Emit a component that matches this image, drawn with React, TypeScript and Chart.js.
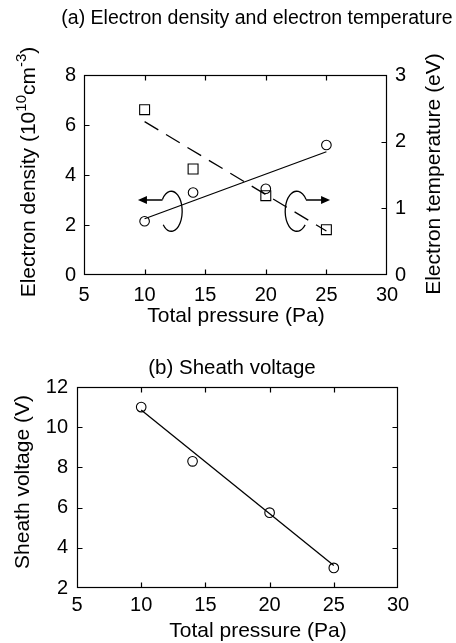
import React, { useEffect, useRef } from 'react';
import { Chart, registerables } from 'chart.js';

Chart.register(...registerables);

// ---------- data ----------
const pressure = [10, 14, 20, 25];
const electronDensity = [2.15, 3.3, 3.45, 5.2];
const electronTemperature = [2.48, 1.59, 1.19, 0.68];
const fitPressure = [10, 25];
const densityFit = [2.25, 4.93];
const temperatureFit = [2.3, 0.66];
const sheathVoltage = [11.0, 8.3, 5.75, 3.0];
const sheathFit = [10.85, 3.12];

const pressureTicks = [5, 10, 15, 20, 25, 30];
const densityTicks = [0, 2, 4, 6, 8];
const temperatureTicks = [0, 1, 2, 3];
const voltageTicks = [2, 4, 6, 8, 10, 12];

const FONT = '"Liberation Sans", Arial, Helvetica, sans-serif';
const W = 456;
const TOP_H = 335;
const BOT_H = 643 - TOP_H;

const pts = (xs: number[], ys: number[]) => xs.map((x, i) => ({ x, y: ys[i] }));

// ---------- plugins ----------
const framePlugin = {
  id: 'frame',
  afterDatasetsDraw(chart: any, _a: any, opts: any) {
    const { ctx, chartArea } = chart;
    const { left, right, top, bottom } = chartArea;
    ctx.save();
    ctx.strokeStyle = '#000';
    ctx.lineWidth = 1.2;
    const L = Math.round(left) + 0.5, R = Math.round(right) - 0.5;
    const T = Math.round(top) + 0.5, B = Math.round(bottom) - 0.5;
    ctx.strokeRect(L, T, R - L, B - T);
    const len = 5;
    ctx.beginPath();
    for (const spec of opts.ticks || []) {
      const sc = chart.scales[spec.scale];
      for (const t of sc.ticks) {
        if (t.value <= sc.min || t.value >= sc.max) continue;
        const p = Math.round(sc.getPixelForValue(t.value)) + 0.5;
        for (const side of spec.sides) {
          if (side === 'bottom') { ctx.moveTo(p, B); ctx.lineTo(p, B - len); }
          if (side === 'top') { ctx.moveTo(p, T); ctx.lineTo(p, T + len); }
          if (side === 'left') { ctx.moveTo(L, p); ctx.lineTo(L + len, p); }
          if (side === 'right') { ctx.moveTo(R, p); ctx.lineTo(R - len, p); }
        }
      }
    }
    ctx.stroke();
    ctx.restore();
  },
};

const curlPlugin = {
  id: 'curl',
  afterDatasetsDraw(chart: any, _a: any, opts: any) {
    const { ctx } = chart;
    const xs = chart.scales.x;
    const ys = chart.scales.y;
    ctx.save();
    ctx.strokeStyle = '#000';
    ctx.fillStyle = '#000';
    ctx.lineWidth = 1.3;
    for (const c of opts.items || []) {
      const cx = xs.getPixelForValue(c.cx);
      const cy = ys.getPixelForValue(c.cy);
      const rx = Math.abs(xs.getPixelForValue(c.cx + c.rx) - cx);
      const ry = Math.abs(ys.getPixelForValue(c.cy + c.ry) - cy);
      const ay = ys.getPixelForValue(c.arrowY);
      const tip = xs.getPixelForValue(c.tipX);
      const dir = c.dir; // -1 left, 1 right
      const sa = dir < 0 ? -2.5 : -0.64;
      const ea = dir < 0 ? 2.4 : 0.75;
      const sx = cx + rx * Math.cos(sa);
      ctx.beginPath();
      ctx.moveTo(tip - dir * 7, ay);
      ctx.lineTo(sx, ay);
      ctx.quadraticCurveTo(sx + dir * 0.5, ay, sx, cy + ry * Math.sin(sa));
      ctx.ellipse(cx, cy, rx, ry, 0, sa, ea, dir > 0);
      ctx.stroke();
      ctx.beginPath();
      ctx.moveTo(tip, ay);
      ctx.lineTo(tip - dir * 9, ay - 4);
      ctx.lineTo(tip - dir * 9, ay + 4);
      ctx.closePath();
      ctx.fill();
    }
    ctx.restore();
  },
};

type Part = { t: string; sup?: boolean };
const textPlugin = {
  id: 'texts',
  afterDraw(chart: any, _a: any, opts: any) {
    const { ctx } = chart;
    for (const lb of opts.items || []) {
      ctx.save();
      ctx.translate(lb.x, lb.y);
      if (lb.rot) ctx.rotate(lb.rot);
      ctx.fillStyle = '#000';
      ctx.textBaseline = 'middle';
      ctx.textAlign = 'left';
      const supSize = Math.round(lb.size * 0.72);
      const fontOf = (p: Part) => `${p.sup ? supSize : lb.size}px ${FONT}`;
      let total = 0;
      for (const p of lb.parts as Part[]) {
        ctx.font = fontOf(p);
        total += ctx.measureText(p.t).width;
      }
      let x = -total / 2;
      for (const p of lb.parts as Part[]) {
        ctx.font = fontOf(p);
        ctx.fillText(p.t, x, p.sup ? -lb.size * 0.36 : 0);
        x += ctx.measureText(p.t).width;
      }
      ctx.restore();
    }
  },
};

const tickFont = { family: FONT, size: 20 };

function axis(ticks: number[], extra: any) {
  return {
    type: 'linear',
    min: ticks[0],
    max: ticks[ticks.length - 1],
    ticks: {
      stepSize: ticks[1] - ticks[0],
      color: '#000',
      font: tickFont,
      autoSkip: false,
      maxRotation: 0,
      ...(extra.ticks || {}),
    },
    grid: { display: false, drawTicks: false },
    border: { display: false },
    ...extra.rest,
  };
}

export default function App() {
  const topRef = useRef<HTMLCanvasElement>(null);
  const botRef = useRef<HTMLCanvasElement>(null);

  useEffect(() => {
    const top = new Chart(topRef.current as HTMLCanvasElement, {
      type: 'scatter',
      data: {
        datasets: [
          {
            label: 'Electron density',
            data: pts(pressure, electronDensity),
            yAxisID: 'y',
            pointStyle: 'circle',
            pointRadius: 4.8,
            pointBorderWidth: 1.1,
            borderColor: '#000',
            backgroundColor: 'rgba(0,0,0,0)',
            showLine: false,
          },
          {
            label: 'Electron density fit',
            data: pts(fitPressure, densityFit),
            yAxisID: 'y',
            showLine: true,
            pointRadius: 0,
            borderColor: '#000',
            borderWidth: 1.3,
          },
          {
            label: 'Electron temperature',
            data: pts(pressure, electronTemperature),
            yAxisID: 'y2',
            pointStyle: 'rect',
            pointRadius: 7,
            pointBorderWidth: 1.1,
            borderColor: '#000',
            backgroundColor: 'rgba(0,0,0,0)',
            showLine: false,
          },
          {
            label: 'Electron temperature fit',
            data: pts(fitPressure, temperatureFit),
            yAxisID: 'y2',
            showLine: true,
            pointRadius: 0,
            borderColor: '#000',
            borderWidth: 1.3,
            borderDash: [16, 9],
          },
        ],
      },
      options: {
        animation: false,
        responsive: false,
        events: [],
        layout: { padding: { top: 75, left: 0, right: 0, bottom: 0 } },
        scales: {
          x: axis(pressureTicks, {
            ticks: { padding: 8 },
            rest: { position: 'bottom', afterFit: (s: any) => { s.height = 60; } },
          }),
          y: axis(densityTicks, {
            ticks: { padding: 8 },
            rest: { position: 'left', afterFit: (s: any) => { s.width = 84; } },
          }),
          y2: axis(temperatureTicks, {
            ticks: { padding: 8 },
            rest: { position: 'right', afterFit: (s: any) => { s.width = 69; } },
          }),
        } as any,
        plugins: {
          legend: { display: false },
          tooltip: { enabled: false },
          frame: {
            ticks: [
              { scale: 'x', sides: ['bottom', 'top'] },
              { scale: 'y', sides: ['left'] },
              { scale: 'y2', sides: ['right'] },
            ],
          },
          curl: {
            items: [
              { cx: 12.2, cy: 2.55, rx: 0.9, ry: 0.8, arrowY: 3.0, tipX: 9.45, dir: -1 },
              { cx: 22.55, cy: 2.55, rx: 0.95, ry: 0.8, arrowY: 3.0, tipX: 25.3, dir: 1 },
            ],
          },
          texts: {
            items: [
              { parts: [{ t: '(a) Electron density and electron temperature' }], x: 257, y: 19, size: 19.5 },
              { parts: [{ t: 'Total pressure (Pa)' }], x: 236, y: 316, size: 21 },
              {
                parts: [
                  { t: 'Electron density (10' },
                  { t: '10', sup: true },
                  { t: 'cm' },
                  { t: '-3', sup: true },
                  { t: ')' },
                ],
                x: 29, y: 172, rot: -Math.PI / 2, size: 21,
              },
              { parts: [{ t: 'Electron temperature (eV)' }], x: 434, y: 174, rot: -Math.PI / 2, size: 21 },
            ],
          },
        } as any,
      },
      plugins: [framePlugin, curlPlugin, textPlugin],
    });

    const bot = new Chart(botRef.current as HTMLCanvasElement, {
      type: 'scatter',
      data: {
        datasets: [
          {
            label: 'Sheath voltage',
            data: pts(pressure, sheathVoltage),
            pointStyle: 'circle',
            pointRadius: 4.8,
            pointBorderWidth: 1.1,
            borderColor: '#000',
            backgroundColor: 'rgba(0,0,0,0)',
            showLine: false,
          },
          {
            label: 'Sheath voltage fit',
            data: pts(fitPressure, sheathFit),
            showLine: true,
            pointRadius: 0,
            borderColor: '#000',
            borderWidth: 1.3,
          },
        ],
      },
      options: {
        animation: false,
        responsive: false,
        events: [],
        layout: { padding: { top: 52, left: 0, right: 58, bottom: 0 } },
        scales: {
          x: axis(pressureTicks, {
            ticks: { padding: 5 },
            rest: { position: 'bottom', afterFit: (s: any) => { s.height = 55; } },
          }),
          y: axis(voltageTicks, {
            ticks: { padding: 9 },
            rest: { position: 'left', afterFit: (s: any) => { s.width = 77; } },
          }),
        } as any,
        plugins: {
          legend: { display: false },
          tooltip: { enabled: false },
          frame: {
            ticks: [
              { scale: 'x', sides: ['bottom', 'top'] },
              { scale: 'y', sides: ['left', 'right'] },
            ],
          },
          texts: {
            items: [
              { parts: [{ t: '(b) Sheath voltage' }], x: 232, y: 33, size: 20.5 },
              { parts: [{ t: 'Total pressure (Pa)' }], x: 258, y: 296, size: 21 },
              { parts: [{ t: 'Sheath voltage (V)' }], x: 23, y: 147, rot: -Math.PI / 2, size: 21 },
            ],
          },
        } as any,
      },
      plugins: [framePlugin, textPlugin],
    });

    return () => {
      top.destroy();
      bot.destroy();
    };
  }, []);

  return (
    <div style={{ position: 'absolute', left: 0, top: 0, width: W, height: 643, background: '#fff' }}>
      <canvas ref={topRef} width={W} height={TOP_H} style={{ display: 'block', width: W, height: TOP_H }} />
      <canvas ref={botRef} width={W} height={BOT_H} style={{ display: 'block', width: W, height: BOT_H }} />
    </div>
  );
}
